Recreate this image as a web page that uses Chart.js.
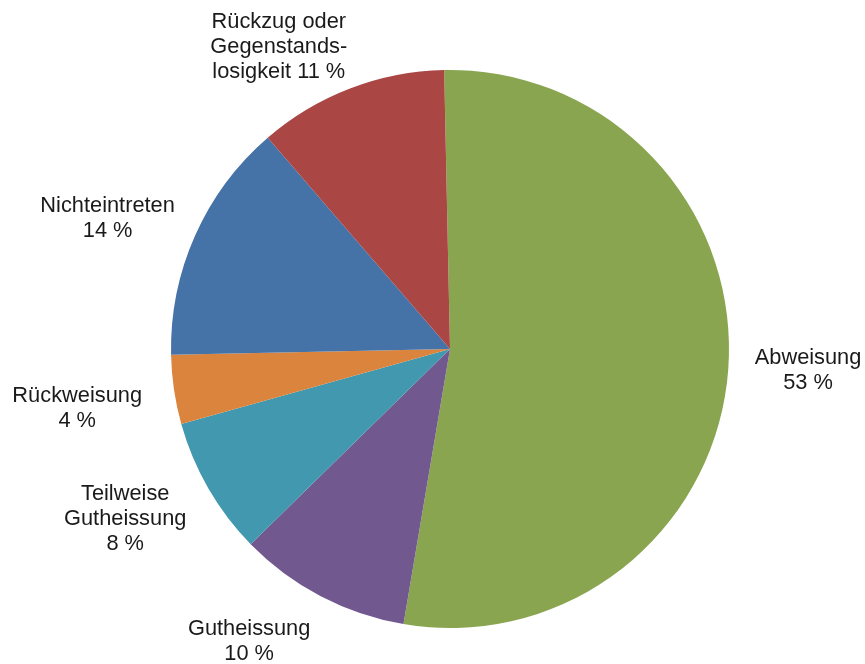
<!DOCTYPE html>
<html>
<head>
<meta charset="utf-8">
<script src="https://cdn.jsdelivr.net/npm/chart.js@4/dist/chart.umd.min.js"></script>
<style>
  html, body { margin:0; padding:0; background:#fff; }
  #wrap { width:865px; height:664px; position:relative; }
</style>
</head>
<body>
<div id="wrap"><canvas id="pie"></canvas></div>
<script>
// ─── Data ────────────────────────────────────────────────────────────────────
const categories = ['Abweisung', 'Gutheissung', 'Teilweise Gutheissung', 'Rückweisung', 'Nichteintreten', 'Rückzug oder Gegenstandslosigkeit'];
const shares     = [53, 10, 8, 4, 14, 11];   // percent
// how each category label is broken into lines
const labelLines = [
  ['Abweisung'],
  ['Gutheissung'],
  ['Teilweise', 'Gutheissung'],
  ['Rückweisung'],
  ['Nichteintreten'],
  ['Rückzug oder', 'Gegenstands-', 'losigkeit']
];
const pctInline  = [false, false, false, false, false, true];

// ─── Palette & font ──────────────────────────────────────────────────────────
const COLORS = ['#8aa550', '#71588f', '#4198af', '#db843d', '#4572a7', '#aa4644'];
const FONT   = '21.8px "Liberation Sans", Arial, sans-serif';
const LINE_H = 25;
const GAP    = 22;
// hand nudges for labels that were dragged away from the slice mid-line
const NUDGE  = [[3, -5], [-38, -19], [-2, -16], [-8, 6], [-2, 21], [-42, 35]];

function labelText(i) {
  const lines = labelLines[i].slice();
  const pct = shares[i] + ' %';
  if (pctInline[i]) lines[lines.length - 1] += ' ' + pct;
  else lines.push(pct);
  return lines;
}

// outside-end labels, pushed out along each slice's mid angle
const outsideLabels = {
  id: 'outsideLabels',
  afterDraw(chart) {
    const ctx = chart.ctx;
    const meta = chart.getDatasetMeta(0);
    ctx.save();
    ctx.font = FONT;
    ctx.fillStyle = '#1a1a1a';
    ctx.textAlign = 'center';
    ctx.textBaseline = 'middle';
    meta.data.forEach((arc, i) => {
      const { x, y, startAngle, endAngle, outerRadius } = arc.getProps(['x', 'y', 'startAngle', 'endAngle', 'outerRadius'], true);
      const mid = (startAngle + endAngle) / 2;
      const ux = Math.cos(mid), uy = Math.sin(mid);
      const lines = labelText(i);
      const w = Math.max(...lines.map(l => ctx.measureText(l).width));
      const h = lines.length * LINE_H;
      const support = w / 2 * Math.abs(ux) + h / 2 * Math.abs(uy);
      const d = outerRadius + GAP + support;
      const cx = x + ux * d + NUDGE[i][0], cy = y + uy * d + NUDGE[i][1];
      lines.forEach((l, k) => {
        ctx.fillText(l, cx, cy - h / 2 + LINE_H * (k + 0.5));
      });
    });
    ctx.restore();
  }
};

new Chart(document.getElementById('pie'), {
  type: 'pie',
  data: {
    labels: categories,
    datasets: [{
      data: shares,
      backgroundColor: COLORS,
      borderWidth: 0
    }]
  },
  options: {
    responsive: true,
    maintainAspectRatio: false,
    animation: false,
    rotation: -1.2,
    layout: { padding: { top: 70, bottom: 36, left: 171, right: 136 } },
    plugins: {
      legend: { display: false },
      tooltip: { enabled: false }
    }
  },
  plugins: [outsideLabels]
});
</script>
</body>
</html>
